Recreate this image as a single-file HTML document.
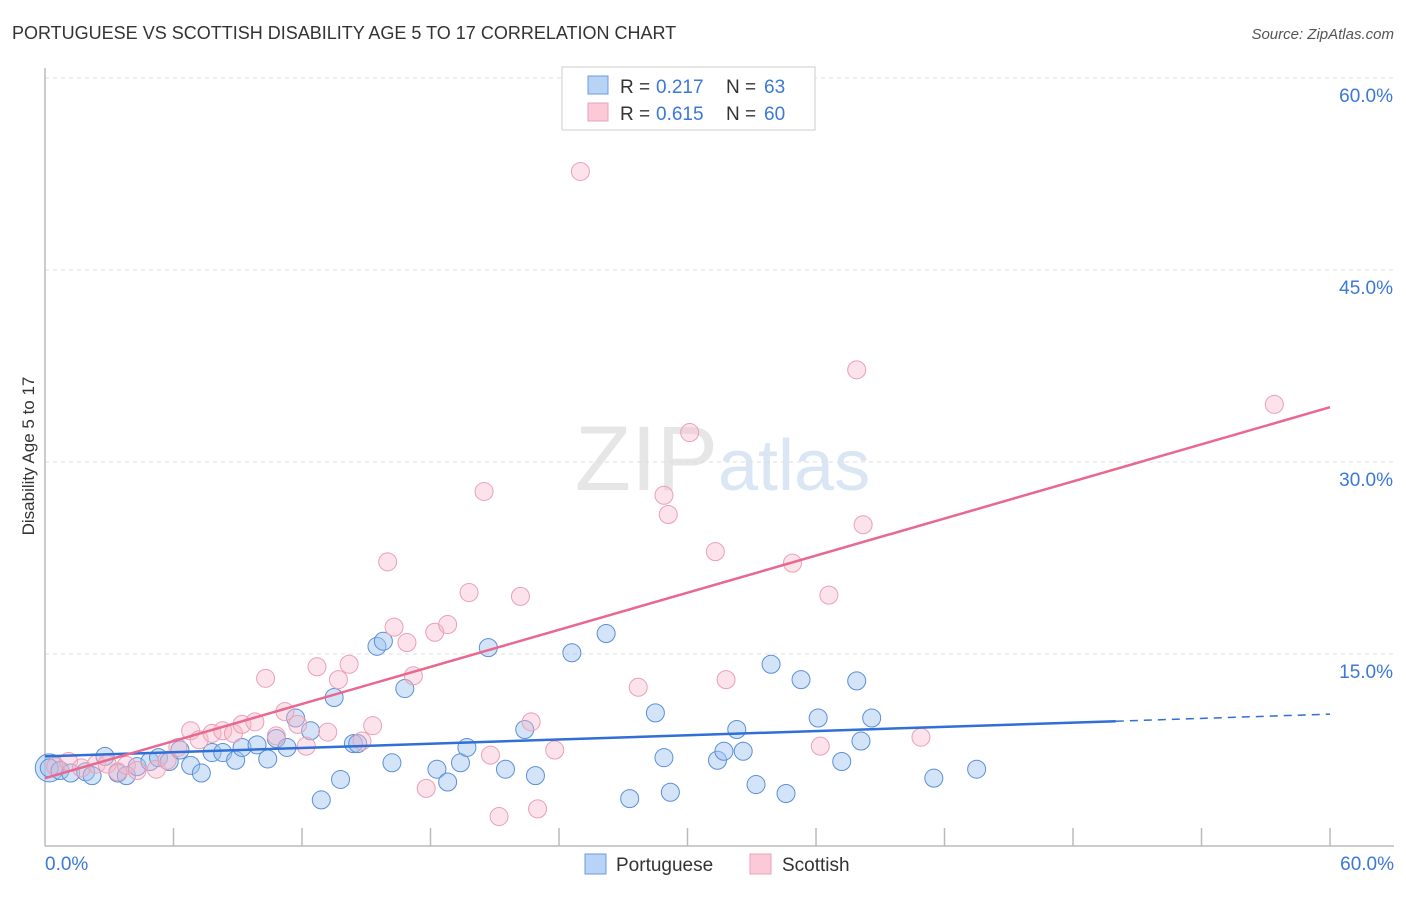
<!DOCTYPE html>
<html><head><meta charset="utf-8"><style>
body{margin:0;background:#fff;font-family:"Liberation Sans",sans-serif}
svg text{font-family:"Liberation Sans",sans-serif}
</style></head><body>
<svg width="1406" height="892" viewBox="0 0 1406 892" id="chart">
<text x="12" y="39" font-size="18" fill="#333">PORTUGUESE VS SCOTTISH DISABILITY AGE 5 TO 17 CORRELATION CHART</text>
<text x="1394" y="39" font-size="15" fill="#555" font-style="italic" text-anchor="end">Source: ZipAtlas.com</text>
<text x="718" y="490" font-size="92" fill="#e6e6e6" text-anchor="end" font-family="Liberation Serif">ZIP</text>
<text x="718" y="490" font-size="72" fill="#dbe6f5">atlas</text>
<text transform="translate(34,456) rotate(-90)" font-size="17" fill="#333" text-anchor="middle">Disability Age 5 to 17</text>
<g id="grid"></g><g id="axes"></g><g id="marks"></g>
<g>
<rect x="562" y="67" width="253" height="63" fill="#fff" stroke="#ccc"/>
<rect x="588" y="76" width="20" height="18" fill="#b7d3f5" stroke="#6b9be0"/>
<rect x="588" y="103" width="20" height="18" fill="#fbc9d8" stroke="#eba1b8"/>
<text x="620" y="93" font-size="19" fill="#333">R =</text>
<text x="656" y="93" font-size="19" fill="#3b78d8">0.217</text>
<text x="726" y="93" font-size="19" fill="#333">N =</text>
<text x="764" y="93" font-size="19" fill="#3b78d8">63</text>
<text x="620" y="120" font-size="19" fill="#333">R =</text>
<text x="656" y="120" font-size="19" fill="#3b78d8">0.615</text>
<text x="726" y="120" font-size="19" fill="#333">N =</text>
<text x="764" y="120" font-size="19" fill="#3b78d8">60</text>
</g>
<g>
<rect x="585" y="854" width="21" height="20" fill="#b7d3f5" stroke="#6b9be0"/>
<text x="616" y="871" font-size="19" fill="#333">Portuguese</text>
<rect x="750" y="854" width="21" height="20" fill="#fbc9d8" stroke="#eba1b8"/>
<text x="782" y="871" font-size="19" fill="#333">Scottish</text>
</g>
</svg>
<script>
const yTicks=[15,30,45,60];
const yTickLabels=["15.0%","30.0%","45.0%","60.0%"];
const xTicks=[0,6,12,18,24,30,36,42,48,54,60];
const xEndLabels=["0.0%","60.0%"];
const portuguese=[[0.2,6.1],[0.7,5.9],[1.2,5.7],[1.9,5.8],[2.2,5.5],[2.8,7.0],[3.4,5.7],[3.8,5.5],[4.3,6.2],[4.9,6.6],[5.3,6.9],[5.8,6.6],[6.3,7.5],[6.8,6.3],[7.3,5.7],[7.8,7.3],[8.3,7.3],[8.9,6.7],[9.2,7.7],[9.9,7.9],[10.4,6.8],[10.8,8.4],[11.3,7.7],[11.7,10.0],[12.4,9.0],[12.9,3.6],[13.5,11.6],[13.8,5.2],[14.4,8.0],[14.6,8.0],[15.5,15.6],[15.8,16.0],[16.2,6.5],[16.8,12.3],[18.3,6.0],[18.8,5.0],[19.4,6.5],[19.7,7.7],[20.7,15.5],[21.5,6.0],[22.4,9.1],[22.9,5.5],[24.6,15.1],[26.2,16.6],[27.3,3.7],[28.5,10.4],[28.9,6.9],[29.2,4.2],[31.4,6.7],[31.7,7.4],[32.3,9.1],[32.6,7.4],[33.2,4.8],[33.9,14.2],[34.6,4.1],[35.3,13.0],[36.1,10.0],[37.2,6.6],[37.9,12.9],[38.1,8.2],[38.6,10.0],[41.5,5.3],[43.5,6.0]];
const scottish=[[0.5,6.2],[1.1,6.6],[1.7,6.1],[2.4,6.4],[2.9,6.4],[3.4,5.8],[3.8,6.3],[4.3,5.9],[5.2,6.0],[5.7,6.7],[6.2,7.7],[6.8,9.0],[7.2,8.3],[7.8,8.8],[8.3,9.0],[8.8,8.8],[9.2,9.5],[9.8,9.7],[10.3,13.1],[10.8,8.6],[11.2,10.5],[11.8,9.5],[12.2,7.8],[12.7,14.0],[13.2,8.9],[13.7,13.0],[14.2,14.2],[14.8,8.2],[15.3,9.4],[16.0,22.2],[16.3,17.1],[16.9,15.9],[17.2,13.3],[17.8,4.5],[18.2,16.7],[18.8,17.3],[19.8,19.8],[20.5,27.7],[20.8,7.1],[21.2,2.3],[22.2,19.5],[22.7,9.7],[23.0,2.9],[23.8,7.5],[25.0,52.7],[27.7,12.4],[28.9,27.4],[29.1,25.9],[30.1,32.3],[31.3,23.0],[31.8,13.0],[34.9,22.1],[36.2,7.8],[36.6,19.6],[37.9,37.2],[38.2,25.1],[40.9,8.5],[57.4,34.5]];
const blueTrend=[7.0,0.055];
const pinkTrend=[5.3,0.483];
const NS='http://www.w3.org/2000/svg';
const X=v=>45+v*21.417, Y=v=>846-v*12.8;
function mk(tag,attrs,parent){const e=document.createElementNS(NS,tag);for(const k in attrs)e.setAttribute(k,attrs[k]);parent.appendChild(e);return e;}
const grid=document.getElementById('grid'),axes=document.getElementById('axes'),marks=document.getElementById('marks');
yTicks.forEach((t,i)=>{
 const l=mk('line',{x1:45,x2:1394,y1:Y(t),y2:Y(t),stroke:'#ddd','stroke-dasharray':'4,4'},grid);
 
 
 const tx=mk('text',{x:1393,y:Y(t)+24,'font-size':19,fill:'#3b78d8','text-anchor':'end'},grid);
 tx.textContent=yTickLabels[i];
 
 
});
const ya=mk('line',{x1:45,x2:45,y1:68,y2:846,stroke:'#bbb','stroke-width':1.5},axes);


const xa=mk('line',{x1:45,x2:1394,y1:846,y2:846,stroke:'#bbb','stroke-width':1.5},axes);


xTicks.slice(1).forEach(t=>{
 const l=mk('line',{x1:X(t),x2:X(t),y1:828,y2:846,stroke:'#bbb','stroke-width':1.5},axes);
 
 
});
const xl0=mk('text',{x:45,y:870,'font-size':19,fill:'#3b78d8'},axes);xl0.textContent=xEndLabels[0];


const xl1=mk('text',{x:1394,y:870,'font-size':19,fill:'#3b78d8','text-anchor':'end'},axes);xl1.textContent=xEndLabels[1];


const big=mk('circle',{cx:X(0.2),cy:Y(6.1),r:14,fill:'rgba(160,196,240,0.5)',stroke:'#5b8fd6','stroke-width':1},marks);


portuguese.forEach(p=>{
 const c=mk('circle',{cx:X(p[0]),cy:Y(p[1]),r:9,fill:'rgba(160,196,240,0.45)',stroke:'#5b8fd6','stroke-width':1},marks);
 
 
});
scottish.forEach(p=>{
 const c=mk('circle',{cx:X(p[0]),cy:Y(p[1]),r:9,fill:'rgba(248,182,202,0.4)',stroke:'#eaa0b6','stroke-width':1},marks);
 
 
});
const bt=x=>blueTrend[0]+blueTrend[1]*x, pt=x=>pinkTrend[0]+pinkTrend[1]*x;
const b1=mk('line',{x1:X(0),y1:Y(bt(0)),x2:X(50),y2:Y(bt(50)),stroke:'#2f6fd6','stroke-width':2.5},marks);


const b2=mk('line',{x1:X(50),y1:Y(bt(50)),x2:X(60),y2:Y(bt(60)),stroke:'#2f6fd6','stroke-width':1.5,'stroke-dasharray':'8,6'},marks);


const p1=mk('line',{x1:X(0),y1:Y(pt(0)),x2:X(60),y2:Y(pt(60)),stroke:'#e8688f','stroke-width':2.5},marks);


</script>
</body></html>
